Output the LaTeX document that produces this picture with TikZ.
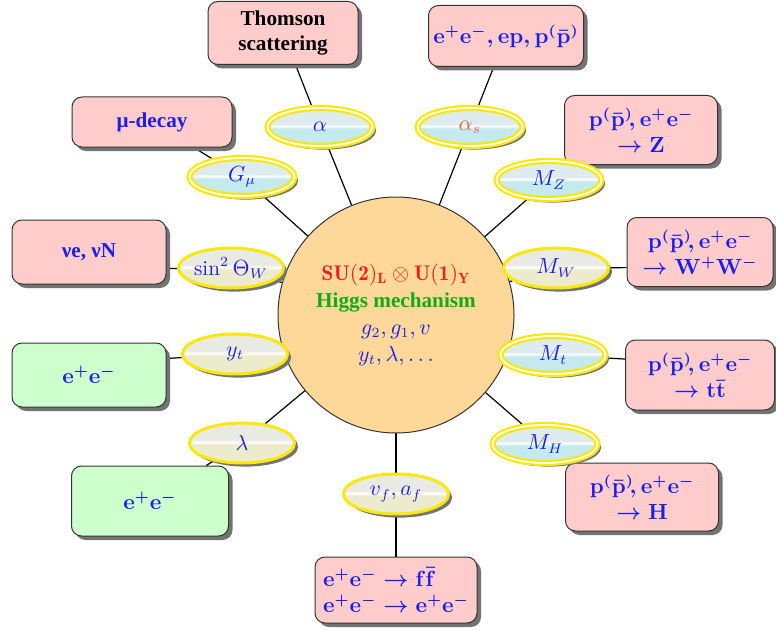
\documentclass[tikz,border=0pt]{standalone}
\usepackage{amsmath}
\usepackage{fontspec}
\usetikzlibrary{shapes.geometric,shadows,backgrounds}
\newfontfamily\tms{Liberation Serif}

\definecolor{lblue}{RGB}{30,30,235}
\definecolor{hred}{RGB}{240,30,30}
\definecolor{hgreen}{RGB}{20,170,20}
\definecolor{asred}{RGB}{232,100,70}
\definecolor{boxpink}{RGB}{255,204,204}
\definecolor{boxgreen}{RGB}{204,255,204}
\definecolor{circfill}{RGB}{253,216,153}
\definecolor{yel}{RGB}{250,232,10}
\definecolor{cyT}{RGB}{222,236,240}
\definecolor{cyB}{RGB}{196,234,238}
\definecolor{bgT}{RGB}{234,234,228}
\definecolor{bgB}{RGB}{236,236,204}

\pgfdeclareverticalshading{cyanball}{100bp}{color(0bp)=(cyB); color(25bp)=(cyB); color(48bp)=(cyB); color(51bp)=(white); color(54bp)=(cyT); color(75bp)=(cyT); color(100bp)=(cyT)}
\pgfdeclareverticalshading{beigeball}{100bp}{color(0bp)=(bgB); color(25bp)=(bgB); color(48bp)=(bgB); color(51bp)=(white); color(54bp)=(bgT); color(75bp)=(bgT); color(100bp)=(bgT)}

\tikzset{
  sm/.style={circle, draw=black!80, line width=0.5pt, fill=circfill, minimum size=118pt,
    inner sep=0pt, align=center, font=\fontsize{10.6}{13.5}\selectfont},
  procbox/.style={rectangle, rounded corners=5pt, draw=black!80, line width=0.5pt, fill=boxpink,
    align=center, inner sep=2pt, text=lblue, font=\fontsize{10.6}{13}\selectfont\boldmath,
    drop shadow={shadow xshift=2pt, shadow yshift=-2pt, fill=black!55, opacity=1}},
  greenbox/.style={procbox, fill=boxgreen},
  parcyan/.style={ellipse, draw=yel, double=white, line width=1.1pt, double distance=0.9pt,
    shading=cyanball, minimum width=52.5pt, minimum height=19pt, inner sep=0pt, text=lblue,
    font=\fontsize{10.6}{12}\selectfont,
    drop shadow={shadow xshift=1.8pt, shadow yshift=-1.8pt, fill=black!55, opacity=1}},
  parbeige/.style={ellipse, draw=yel, line width=1.5pt,
    shading=beigeball, minimum width=52.5pt, minimum height=20pt, inner sep=0pt, text=lblue,
    font=\fontsize{10.6}{12}\selectfont,
    drop shadow={shadow xshift=1.8pt, shadow yshift=-1.8pt, fill=black!55, opacity=1}},
  conn/.style={draw=black, line width=0.6pt}
}

\begin{document}
\begin{tikzpicture}[x=0.5pt,y=-0.5pt]
\useasboundingbox (0,0) rectangle (776,631);

% Standard Model core
\node[sm] (circ) at (396,315) {%
  {\color{hred}$\boldmath\mathbf{SU(2)_L\otimes U(1)_Y}$}\\
  {\tms\bfseries\color{hgreen}Higgs mechanism}\\
  {\color{lblue}$g_2, g_1, v$}\\
  {\color{lblue}$y_t, \lambda, \ldots$}};

% experiments
\node[procbox, minimum width=75pt, minimum height=31.5pt, text=black,
  font=\fontsize{10.6}{12.5}\selectfont\tms\bfseries] (thom) at (283,33) {Thomson\\scattering};
\node[procbox, minimum width=77.5pt, minimum height=30.5pt] (eep) at (506,36)
  {$\mathbf{e}^+\mathbf{e}^-, \mathbf{ep}, \mathbf{p}^{(}\bar{\mathbf{p}}^{)}$};
\node[procbox, minimum width=80pt, minimum height=25pt,
  font=\fontsize{10.6}{12.5}\selectfont\tms\bfseries] (mud) at (152,122) {μ-decay};
\node[procbox, minimum width=76.5pt, minimum height=34.5pt] (zbx) at (641,130)
  {$\mathbf{p}^{(}\bar{\mathbf{p}}^{)}\!, \mathbf{e}^+\mathbf{e}^-$\\ $\to\mathbf{Z}$};
\node[procbox, minimum width=77pt, minimum height=32pt,
  font=\fontsize{10.6}{12.5}\selectfont\tms\bfseries] (nue) at (89,252) {νe, νN};
\node[procbox, minimum width=73pt, minimum height=34.5pt] (wwb) at (700,252)
  {$\mathbf{p}^{(}\bar{\mathbf{p}}^{)}\!, \mathbf{e}^+\mathbf{e}^-$\\ $\to\mathbf{W}^+\mathbf{W}^-$};
\node[greenbox, minimum width=77pt, minimum height=32pt] (eeA) at (89,375)
  {$\mathbf{e}^+\mathbf{e}^-$};
\node[procbox, minimum width=74.5pt, minimum height=35pt] (ttb) at (700,375)
  {$\mathbf{p}^{(}\bar{\mathbf{p}}^{)}\!, \mathbf{e}^+\mathbf{e}^-$\\ $\to\mathbf{t}\bar{\mathbf{t}}$};
\node[greenbox, minimum width=78.5pt, minimum height=35pt] (eeB) at (150,501)
  {$\mathbf{e}^+\mathbf{e}^-$};
\node[procbox, minimum width=76.5pt, minimum height=34pt] (hbx) at (642,497)
  {$\mathbf{p}^{(}\bar{\mathbf{p}}^{)}\!, \mathbf{e}^+\mathbf{e}^-$\\ $\to\mathbf{H}$};
\node[procbox, minimum width=81pt, minimum height=33pt, align=left] (ffb) at (396,590)
  {$\mathbf{e}^+\mathbf{e}^-\to\mathbf{f}\bar{\mathbf{f}}$\\ $\mathbf{e}^+\mathbf{e}^-\to\mathbf{e}^+\mathbf{e}^-$};

% parameters
\node[parcyan] (al) at (320,127) {$\alpha$};
\node[parcyan] (als) at (470,127) {$\color{asred}\alpha_s$};
\node[parcyan] (gmu) at (242,177) {$G_\mu$};
\node[parcyan] (mz) at (549,180) {$M_Z$};
\node[parbeige] (sw) at (231,268) {$\sin^2\Theta_W$};
\node[parbeige] (mw) at (556,268) {$M_W$};
\node[parbeige] (yt) at (235,354) {$y_t$};
\node[parcyan] (mt) at (553,355) {$M_t$};
\node[parbeige] (lam) at (242,443) {$\lambda$};
\node[parcyan] (mh) at (545,444) {$M_H$};
\node[parbeige] (vf) at (396,494) {$v_f, a_f$};

% connectors
\begin{scope}[on background layer]
  \draw[conn] (circ.center) -- (al) -- (thom);
  \draw[conn] (circ.center) -- (als) -- (eep);
  \draw[conn] (circ.center) -- (gmu) -- (mud);
  \draw[conn] (circ.center) -- (mz) -- (zbx);
  \draw[conn] (circ.center) -- (sw) -- (nue.-12);
  \draw[conn] (circ.center) -- (mw) -- (wwb.192);
  \draw[conn] (circ.center) -- (yt) -- (eeA.12);
  \draw[conn] (circ.center) -- (mt) -- (ttb.168);
  \draw[conn] (circ.center) -- (lam) -- (eeB);
  \draw[conn] (circ.center) -- (mh) -- (hbx);
  \draw[conn] (circ.center) -- (vf) -- (ffb);
\end{scope}
\end{tikzpicture}
\end{document}
